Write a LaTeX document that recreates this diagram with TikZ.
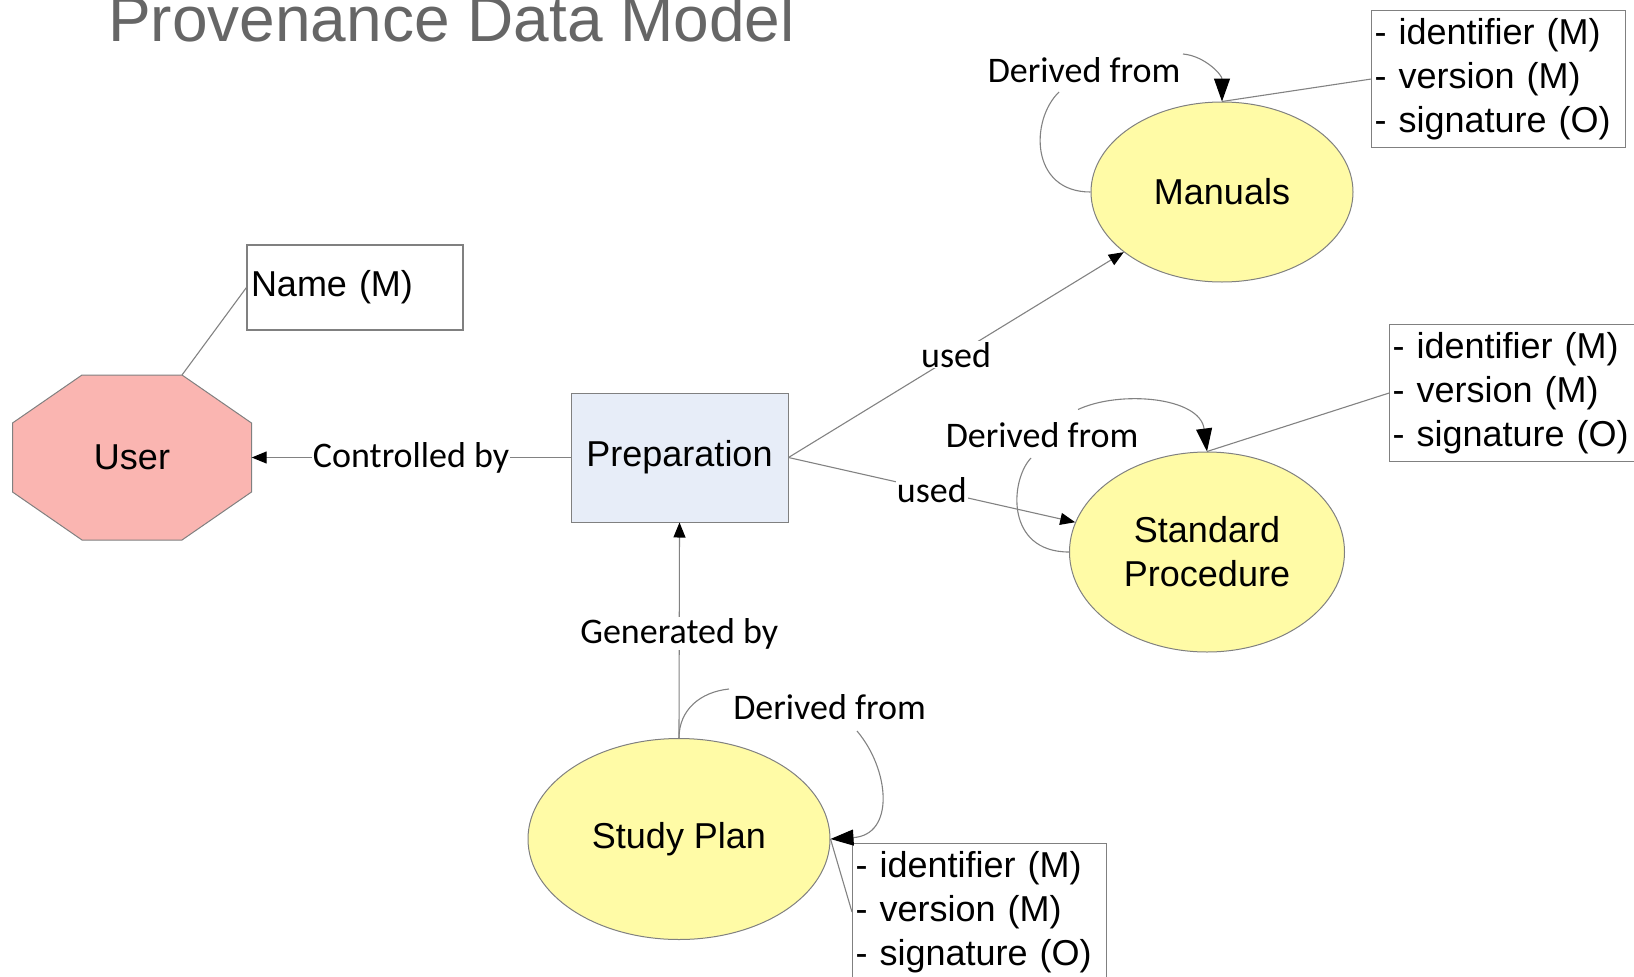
\documentclass[tikz,border=0pt]{standalone}
\usepackage{fontspec}
\setmainfont{Liberation Sans}
\newfontfamily\lblfont{Carlito}
\usetikzlibrary{arrows.meta,shapes.geometric,calc}
\definecolor{ellfill}{RGB}{255,251,166}
\definecolor{userfill}{RGB}{250,181,177}
\definecolor{prepfill}{RGB}{231,237,248}
\definecolor{edgegray}{RGB}{128,128,128}
\definecolor{linegray}{RGB}{130,130,130}
\definecolor{titlegray}{RGB}{102,102,102}
\begin{document}
\begin{tikzpicture}[x=1pt,y=-1pt,
  nodefont/.style={font=\fontsize{36}{44}\selectfont},
  ent/.style={ellipse, draw=edgegray, fill=ellfill, line width=1pt, inner sep=0pt, align=center, nodefont},
  attrbox/.style={rectangle, draw=edgegray, line width=1.1pt, align=left, inner xsep=3pt, inner ysep=0pt,
     text width=248pt, minimum height=137pt, nodefont, anchor=north west},
  lbl/.style={font=\lblfont\fontsize{36}{40}\selectfont, fill=white, inner sep=1pt},
  conn/.style={draw=linegray, line width=1.1pt},
  arr/.style={conn, -{Triangle[length=15pt,width=12pt,color=black,fill=black]}},
  darr/.style={conn, -{Triangle[length=23pt,width=16pt,color=black,fill=black]}}
]
\useasboundingbox (0,0) rectangle (1634,977);

% title
\node[anchor=base west, inner sep=0pt, text=titlegray, font=\fontsize{64}{70}\selectfont] (title) at (108,41) {Provenance Data Model};

% User octagon
\coordinate (uc) at (132,457.5);
\filldraw[fill=userfill, draw=edgegray, line width=1pt]
  ($(uc)+(-50,-82.5)$) -- ($(uc)+(50,-82.5)$) -- ($(uc)+(119.5,-34.5)$) -- ($(uc)+(119.5,34.5)$)
  -- ($(uc)+(50,82.5)$) -- ($(uc)+(-50,82.5)$) -- ($(uc)+(-119.5,34.5)$) -- ($(uc)+(-119.5,-34.5)$) -- cycle;
\coordinate (utr) at ($(uc)+(50,-82.5)$);
\node[nodefont, minimum width=239pt, minimum height=165pt, inner sep=0pt] (user) at (uc) {User};

% Name box
\node[rectangle, draw=edgegray, line width=1.1pt, nodefont, align=left, text width=208pt, inner xsep=4pt,
      minimum height=85pt] (namebox) at (355,287.5) {Name (M)};

% Preparation
\node[rectangle, draw=edgegray, fill=prepfill, line width=1pt, nodefont, minimum width=217pt, minimum height=129pt]
  (prep) at (679.5,457.5) {Preparation};

% Ellipses
\node[ent, minimum width=262pt, minimum height=180pt] (manuals) at (1222,192) {Manuals};
\node[ent, minimum width=275pt, minimum height=200pt] (sp) at (1207,552) {Standard\\Procedure};
\node[ent, minimum width=302pt, minimum height=201pt] (plan) at (679,839) {Study Plan};

% Attribute boxes
\node[attrbox] (mbox) at (1371,10) {- identifier (M)\\- version (M)\\- signature (O)};
\node[attrbox] (spbox) at (1389,324) {- identifier (M)\\- version (M)\\- signature (O)};
\node[attrbox] (pbox) at (852,843) {- identifier (M)\\- version (M)\\- signature (O)};

% attribute links
\draw[conn] (utr) -- (namebox.west);
\draw[conn] (manuals.north) -- (mbox.west);
\draw[conn] (sp.north) -- (spbox.west);
\draw[conn] (plan.east) -- (pbox.west);

% relations
\draw[arr] (prep.west) -- node[lbl] (lctrl) {Controlled by} (user.east);
\draw[arr] (prep.east) -- node[lbl] (lused1) {used} (manuals);
\draw[arr] (prep.east) -- node[lbl] (lused2) {used} (sp);
\draw[arr] (plan.north) -- node[lbl, pos=0.485] (lgen) {Generated by} (prep.south);

% Derived from: Manuals
\node[lbl, fill=none] (dm) at (1084,70) {Derived from};
\coordinate (dm1) at (1059,92);
\coordinate (dm2) at (1183,54);
\draw[conn] (manuals.west) .. controls (1030,192) and (1030,120) .. (dm1);
\draw[darr] (dm2) .. controls (1205,56) and (1222,75) .. (manuals.north);

% Derived from: Standard Procedure
\node[lbl, fill=none] (ds) at (1042,435.5) {Derived from};
\coordinate (ds1) at (1031,458);
\coordinate (ds2) at (1078,409.5);
\draw[conn] (sp.west) .. controls (1005,552) and (1010,480) .. (ds1);
\draw[darr] (ds2) .. controls (1120,390) and (1200,397) .. (sp.north);

% Derived from: Study Plan
\node[lbl, fill=none] (dp) at (829.5,707.5) {Derived from};
\coordinate (dp1) at (729,689);
\coordinate (dp2) at (857,731);
\draw[conn] (plan.north) .. controls (679,710) and (700,692) .. (dp1);
\draw[darr] (dp2) .. controls (890,770) and (895,835) .. (plan.east);
\end{tikzpicture}
\end{document}
